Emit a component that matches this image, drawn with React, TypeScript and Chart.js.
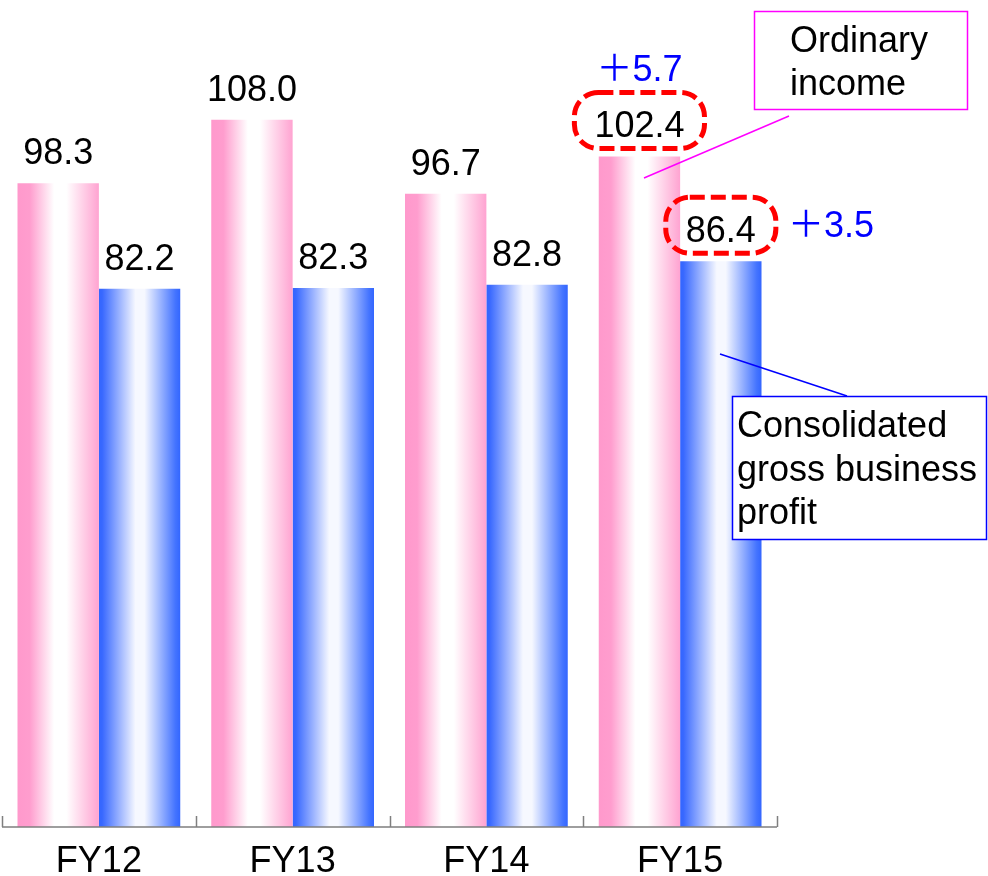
import React, { useEffect, useRef } from 'react';
import { Chart, registerables } from 'chart.js';

Chart.register(...registerables);

const categories = ['FY12', 'FY13', 'FY14', 'FY15'];
const ordinaryIncome = [98.3, 108.0, 96.7, 102.4];
const grossProfit = [82.2, 82.3, 82.8, 86.4];
const seriesNames = ['Ordinary income', 'Consolidated gross business profit'];
const increaseLabels = ['＋5.7', '＋3.5'];
const ordinaryCallout = ['Ordinary', 'income'];
const grossCallout = ['Consolidated', 'gross business', 'profit'];
const yMax = 126.3;

const FONT = '36px "Liberation Sans", Arial, Helvetica, sans-serif';
const CJK_FONT = '36px "Noto Sans CJK JP", "Noto Sans CJK SC", sans-serif';
const PINK = '#ff99cc';
const BLUE = '#3366ff';

const pinkStops: [number, string][] = [
  [0, PINK],
  [0.15, '#ff9dce'],
  [0.45, '#ffffff'],
  [0.6, '#ffffff'],
  [1, '#ffa3d1'],
];
const blueStops: [number, string][] = [
  [0, BLUE],
  [0.04, '#3868ff'],
  [0.45, '#f6f8ff'],
  [0.56, '#f6f8ff'],
  [0.94, '#4474ff'],
  [1, BLUE],
];

function roundRect(ctx: CanvasRenderingContext2D, x: number, y: number, w: number, h: number, r: number) {
  ctx.beginPath();
  ctx.moveTo(x + r, y);
  ctx.lineTo(x + w - r, y);
  ctx.arcTo(x + w, y, x + w, y + r, r);
  ctx.lineTo(x + w, y + h - r);
  ctx.arcTo(x + w, y + h, x + w - r, y + h, r);
  ctx.lineTo(x + r, y + h);
  ctx.arcTo(x, y + h, x, y + h - r, r);
  ctx.lineTo(x, y + r);
  ctx.arcTo(x, y, x + r, y, r);
  ctx.closePath();
}

function drawIncrease(ctx: CanvasRenderingContext2D, text: string, left: number, baseline: number) {
  const sign = text.charAt(0);
  const rest = text.slice(1);
  ctx.textAlign = 'left';
  ctx.font = CJK_FONT;
  ctx.fillText(sign, left, baseline);
  const w = ctx.measureText(sign).width;
  ctx.font = FONT;
  ctx.fillText(rest, left + w, baseline);
}

const gradientPlugin = {
  id: 'barGradients',
  beforeDatasetsDraw(chart: any) {
    const ctx = chart.ctx as CanvasRenderingContext2D;
    chart.data.datasets.forEach((_: any, di: number) => {
      const meta = chart.getDatasetMeta(di);
      const stops = di === 0 ? pinkStops : blueStops;
      meta.data.forEach((bar: any) => {
        const { x, width } = bar.getProps(['x', 'width'], true);
        const left = x - width / 2;
        const g = ctx.createLinearGradient(left, 0, left + width, 0);
        stops.forEach(([o, c]) => g.addColorStop(o, c));
        if (bar.options && !Object.isFrozen(bar.options)) {
          bar.options.backgroundColor = g;
        }
      });
    });
  },
};

const decorPlugin = {
  id: 'decor',
  afterDatasetsDraw(chart: any) {
    const ctx = chart.ctx as CanvasRenderingContext2D;
    const area = chart.chartArea;
    const xs = chart.scales.x;
    const n = categories.length;
    ctx.save();

    // x axis line and inward ticks
    ctx.strokeStyle = '#7f7f7f';
    ctx.lineWidth = 1.5;
    ctx.beginPath();
    ctx.moveTo(area.left, area.bottom);
    ctx.lineTo(area.right, area.bottom);
    const cw = (area.right - area.left) / n;
    for (let i = 0; i <= n; i++) {
      const tx = Math.round(area.left + i * cw) + 0.5;
      ctx.moveTo(tx, area.bottom);
      ctx.lineTo(tx, area.bottom - 11);
    }
    ctx.stroke();

    // category labels
    ctx.font = FONT;
    ctx.fillStyle = '#000000';
    ctx.textAlign = 'center';
    ctx.textBaseline = 'alphabetic';
    categories.forEach((c, i) => {
      ctx.fillText(c, xs.getPixelForValue(i), area.bottom + 45);
    });

    // value labels
    const labelPos: { x: number; y: number; w: number; right: number }[][] = [];
    chart.data.datasets.forEach((ds: any, di: number) => {
      const meta = chart.getDatasetMeta(di);
      labelPos[di] = [];
      meta.data.forEach((bar: any, i: number) => {
        const { x, y, width } = bar.getProps(['x', 'y', 'width'], true);
        const txt = Number(ds.data[i]).toFixed(1);
        const by = y - 19;
        ctx.fillStyle = '#000000';
        ctx.textAlign = 'center';
        ctx.fillText(txt, x, by);
        labelPos[di][i] = { x, y: by, w: ctx.measureText(txt).width, right: x + width / 2 };
      });
    });

    // dashed highlight boxes around latest values
    const last = n - 1;
    ctx.strokeStyle = '#ff0000';
    ctx.lineWidth = 5;
    ctx.setLineDash([15, 6]);
    [0, 1].forEach((di) => {
      const p = labelPos[di][last];
      const w = p.w + 40;
      roundRect(ctx, p.x - w / 2, p.y - 45, w, 56, 24);
      ctx.stroke();
    });
    ctx.setLineDash([]);

    // increases
    ctx.fillStyle = '#0000ff';
    const p0 = labelPos[0][last];
    drawIncrease(ctx, increaseLabels[0], p0.x - 43, p0.y - 56);
    const p1 = labelPos[1][last];
    drawIncrease(ctx, increaseLabels[1], p1.right + 26.5, p1.y - 5);

    // Ordinary income callout
    ctx.font = FONT;
    ctx.strokeStyle = '#ff00ff';
    ctx.lineWidth = 1.5;
    ctx.strokeRect(754.5, 11.5, 213, 98);
    ctx.beginPath();
    ctx.moveTo(789, 116);
    ctx.lineTo(644, 178);
    ctx.stroke();
    ctx.fillStyle = '#000000';
    ctx.textAlign = 'left';
    ctx.fillText(ordinaryCallout[0], 790, 52);
    ctx.fillText(ordinaryCallout[1], 790, 95);

    // Gross profit callout
    ctx.strokeStyle = '#0000ff';
    ctx.lineWidth = 1.5;
    ctx.beginPath();
    ctx.moveTo(720, 354);
    ctx.lineTo(847, 396);
    ctx.stroke();
    ctx.fillStyle = '#ffffff';
    ctx.fillRect(732, 396, 256, 144);
    ctx.strokeRect(732.5, 396.5, 254, 143);
    ctx.fillStyle = '#000000';
    ctx.fillText(grossCallout[0], 737, 437);
    ctx.fillText(grossCallout[1], 737, 481);
    ctx.fillText(grossCallout[2], 737, 524);

    ctx.restore();
  },
};

export default function App() {
  const ref = useRef<HTMLCanvasElement | null>(null);
  useEffect(() => {
    if (!ref.current) return;
    const chart = new Chart(ref.current, {
      type: 'bar',
      data: {
        labels: categories,
        datasets: [
          {
            label: seriesNames[0],
            data: ordinaryIncome,
            backgroundColor: () => PINK,
            borderWidth: 0,
            categoryPercentage: 0.84,
            barPercentage: 1.0,
          },
          {
            label: seriesNames[1],
            data: grossProfit,
            backgroundColor: () => BLUE,
            borderWidth: 0,
            categoryPercentage: 0.84,
            barPercentage: 1.0,
          },
        ],
      },
      options: {
        animation: false,
        responsive: false,
        maintainAspectRatio: false,
        layout: { padding: { left: 2, right: 211, top: 0, bottom: 49 } },
        scales: {
          x: { display: false, offset: true },
          y: { display: false, min: 0, max: yMax },
        },
        plugins: {
          legend: { display: false },
          tooltip: { enabled: false },
        },
      },
      plugins: [gradientPlugin, decorPlugin],
    });
    return () => chart.destroy();
  }, []);
  return (
    <div style={{ position: 'absolute', left: 0, top: 0, width: 988, height: 876, background: '#ffffff' }}>
      <canvas ref={ref} width={988} height={876} style={{ width: 988, height: 876, display: 'block' }} />
    </div>
  );
}
